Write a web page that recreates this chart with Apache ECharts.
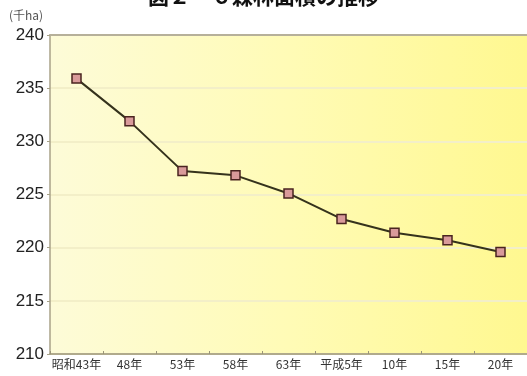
<!DOCTYPE html>
<html>
<head>
<meta charset="utf-8">
<script src="https://cdn.jsdelivr.net/npm/echarts@6/dist/echarts.min.js"></script>
<style>
  html, body { margin: 0; padding: 0; background: #ffffff; }
  #chart { width: 527px; height: 376px; }
</style>
</head>
<body>
<div id="chart"></div>
<script>
// 森林面積の推移（千ha）
const years = ['昭和43年', '48年', '53年', '58年', '63年', '平成5年', '10年', '15年', '20年'];
const forestArea = [235.9, 231.9, 227.2, 226.8, 225.1, 222.7, 221.4, 220.7, 219.6];
const yMin = 210;
const yMax = 240;
const yStep = 5;

const chart = echarts.init(document.getElementById('chart'), null, { renderer: 'canvas' });

chart.setOption({
  animation: false,
  backgroundColor: '#ffffff',
  title: {
    text: '図２－６森林面積の推移',
    left: 'center',
    top: -19,
    textStyle: {
      fontFamily: '"Noto Sans CJK JP", sans-serif',
      fontSize: 21,
      fontWeight: 'bold',
      color: '#111111'
    }
  },
  grid: {
    left: 50,
    right: -8,
    top: 35,
    bottom: 22,
    show: true,
    borderWidth: 0,
    backgroundColor: {
      type: 'linear', x: 0, y: 0, x2: 1, y2: 0,
      colorStops: [
        { offset: 0, color: '#fdfbd8' },
        { offset: 0.5, color: '#fffbb6' },
        { offset: 1, color: '#fff890' }
      ]
    }
  },
  graphic: [
    {
      type: 'text',
      left: 9,
      top: 9,
      style: {
        text: '(千ha)',
        fontFamily: '"Noto Sans CJK JP", sans-serif',
        fontSize: 12,
        fill: '#555555'
      }
    }
  ],
  xAxis: [
    {
      type: 'category',
      data: years,
      boundaryGap: true,
      axisLine: { show: true, lineStyle: { color: '#9a9478', width: 1.5 } },
      axisTick: { show: true, inside: true, length: 3, lineStyle: { color: '#9a9478' } },
      axisLabel: {
        interval: 0,
        margin: 4,
        fontFamily: '"Noto Sans CJK JP", sans-serif',
        fontSize: 12,
        color: '#333333'
      },
      splitLine: { show: false }
    },
    {
      // top frame edge of the plot
      type: 'category',
      data: years,
      position: 'top',
      axisLine: { show: true, lineStyle: { color: '#b6b09a', width: 2 } },
      axisTick: { show: false },
      axisLabel: { show: false },
      splitLine: { show: false }
    }
  ],
  yAxis: {
    type: 'value',
    min: yMin,
    max: yMax,
    interval: yStep,
    axisLine: { show: true, lineStyle: { color: '#a8a288', width: 1.5 } },
    axisTick: { show: true, length: 3, lineStyle: { color: '#a8a288' } },
    axisLabel: {
      margin: 6,
      fontFamily: '"Liberation Sans Narrow", "Liberation Sans", sans-serif',
      fontSize: 17,
      color: '#222222'
    },
    splitLine: { show: true, lineStyle: { color: '#f3efc8', width: 2 } }
  },
  series: [
    {
      type: 'line',
      data: forestArea,
      symbol: 'rect',
      symbolSize: 9,
      lineStyle: { color: '#35321c', width: 2 },
      itemStyle: { color: '#d99a9a', borderColor: '#4a2420', borderWidth: 1.5 },
      z: 5
    }
  ]
});
</script>
</body>
</html>
